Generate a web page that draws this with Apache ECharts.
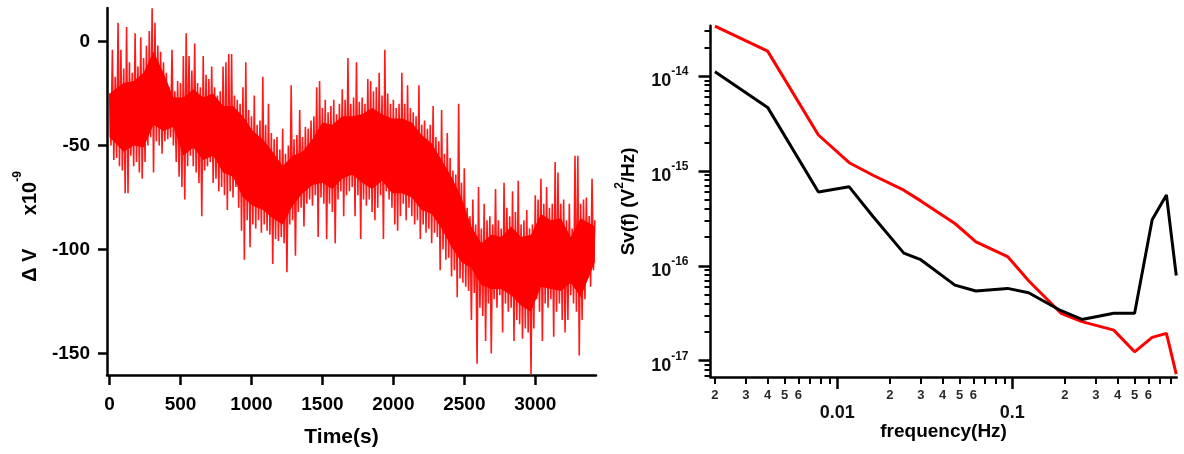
<!DOCTYPE html>
<html><head><meta charset="utf-8">
<script src="https://cdn.jsdelivr.net/npm/echarts@6/dist/echarts.min.js"></script>
<style>html,body{margin:0;padding:0;background:#fff}#c{width:1184px;height:454px}</style>
</head><body><div id="c"></div>
<script>
// ---------- left panel: ΔV (×1e-9) vs time ----------
const sampleIntervalSec = 10;
const deltaV_e9 = [
 -25,-50,-4,-57,-17,-56,9,  -60,-4,-62,-13,-73,7,-73,  -10,-55,-15,-60,4,-58,-12,
 -63,2,-66,-8,-58,-2,-50,  5,-46,16,-63,9,-48,-2,  -50,-5,-54,-10,-48,-15,-47,
 -22,-46,-4,-50,-24,-58,-19,  -65,-20,-70,-7,-76,4,-60,  -7,-55,-14,-60,-1,-63,-20,
 -68,-22,-84,-7,-62,-16,-60,  -18,-58,-12,-68,-22,-66,-26,  -72,-24,-70,-12,-74,-10,-81,
 -6,-72,-6,-75,-26,-70,-28,  -80,-30,-91,-22,-105,-10,-86,  -33,-99,-36,-88,-26,-90,-40,
 -86,-38,-92,-17,-88,-40,-91,  -30,-93,-44,-107,-47,-95,-46,  -96,-52,-94,-42,-97,-54,-111,
 -50,-88,-21,-86,-47,-103,-45,  -82,-33,-80,-46,-89,-41,-78,  -42,-76,-38,-79,-36,-74,-22,
 -94,-19,-75,-32,-78,-28,-95,  -34,-78,-31,-82,-28,-97,-35,  -76,-30,-72,-23,-84,-28,-74,
 -8,-72,-30,-70,-27,-84,-10,  -74,-29,-95,-27,-76,-30,-79,  -18,-76,-19,-82,-24,-86,-22,
 -80,-15,-74,-26,-95,-4,-72,  -25,-76,-30,-80,-28,-88,-32,  -91,-30,-84,-15,-78,-30,-86,
 -21,-80,-32,-84,-34,-88,-36,  -86,-21,-95,-40,-88,-38,-92,  -42,-90,-40,-97,-31,-92,-46,
 -94,-48,-110,-33,-100,-54,-105,  -44,-104,-56,-113,-62,-110,-64,  -123,-30,-114,-68,-116,-61,-118,
 -80,-120,-84,-134,-76,-121,-88,  -155,-70,-128,-90,-132,-78,-144,  -86,-126,-84,-150,-88,-124,-71,
 -128,-86,-122,-90,-140,-68,-126,  -80,-130,-84,-128,-72,-144,-82,  -134,-67,-136,-88,-143,-86,-138,
 -81,-140,-90,-160,-88,-138,-74,  -124,-76,-130,-66,-144,-78,-126,  -70,-128,-80,-124,-78,-142,-58,
 -130,-63,-126,-78,-134,-76,-140,  -86,-134,-78,-122,-90,-126,-55,  -130,-55,-151,-78,-134,-76,-124,
 -75,-114,-84,-118,-66,-110,-86
];
// innermost solid part of the trace (upper / lower edge), read per ~70 s
const coreTimeSec = [0,100,170,240,310,380,450,520,590,660,730,800,870,940,1010,1080,1150,1220,1290,1360,1430,1500,1570,1640,1710,1780,1850,1920,1990,2060,2130,2200,2270,2340,2410,2480,2550,2620,2690,2760,2830,2900,2970,3040,3110,3180,3250,3320,3420];
const coreUpper = [-25,-20,-19,-15,-5,-15,-27,-27,-23,-27,-25,-31,-31,-36,-43,-47,-53,-60,-55,-53,-47,-39,-40,-36,-36,-35,-32,-35,-37,-37,-39,-45,-49,-57,-65,-75,-89,-97,-93,-94,-89,-94,-93,-83,-86,-85,-94,-85,-89];
const coreLower = [-46,-53,-50,-51,-40,-43,-41,-55,-51,-57,-55,-63,-65,-75,-79,-81,-85,-88,-79,-73,-69,-68,-71,-66,-64,-68,-71,-67,-73,-73,-75,-81,-83,-90,-99,-106,-109,-117,-119,-119,-122,-127,-130,-118,-119,-120,-116,-123,-106];
const timeTickLabels = [0, 500, 1000, 1500, 2000, 2500, 3000];
const deltaVTickLabels = [0, -50, -100, -150];

// ---------- right panel: noise spectra ----------
const freqHz  = [0.002, 0.004, 0.0078, 0.0117, 0.016, 0.024, 0.030, 0.047, 0.062, 0.094, 0.124, 0.19, 0.25, 0.38, 0.50, 0.63, 0.76, 0.865];
const svRed   = [3.36e-14, 1.83e-14, 2.39e-15, 1.22e-15, 9.0e-16, 6.26e-16, 4.83e-16, 2.79e-16, 1.79e-16, 1.25e-16, 6.95e-17, 3.16e-17, 2.58e-17, 2.1e-17, 1.24e-17, 1.76e-17, 1.94e-17, 7.2e-18];
const svBlack = [1.11e-14, 4.67e-15, 6.0e-16, 6.79e-16, 3.31e-16, 1.36e-16, 1.16e-16, 6.26e-17, 5.42e-17, 5.78e-17, 5.2e-17, 3.36e-17, 2.72e-17, 3.16e-17, 3.16e-17, 3.05e-16, 5.58e-16, 7.9e-17];
const freqMinorTickLabels = [0.002,0.003,0.004,0.005,0.006, 0.02,0.03,0.04,0.05,0.06, 0.2,0.3,0.4,0.5,0.6];
const freqMajorTickLabels = [0.01, 0.1];
const freqMinorTicks = [0.002,0.003,0.004,0.005,0.006,0.007,0.008,0.009, 0.02,0.03,0.04,0.05,0.06,0.07,0.08,0.09, 0.2,0.3,0.4,0.5,0.6,0.7,0.8];
const svDecadeTickLabels = [1e-14, 1e-15, 1e-16, 1e-17];
const svMinorTicks = [7e-18,8e-18,9e-18, 2e-17,3e-17,4e-17,5e-17,6e-17,7e-17,8e-17,9e-17,
  2e-16,3e-16,4e-16,5e-16,6e-16,7e-16,8e-16,9e-16, 2e-15,3e-15,4e-15,5e-15,6e-15,7e-15,8e-15,9e-15, 2e-14,3e-14];

const FONT = 'Liberation Sans, Arial, Helvetica, sans-serif';
const fMin = 1.886e-3, fMax = 0.870;
const sMin = 6.73e-18, sMax = 3.39e-14;
const lg = Math.log10;

const chart = echarts.init(document.getElementById('c'), null, {renderer: 'canvas'});

const leftData = deltaV_e9.map((v, i) => [i * sampleIntervalSec, v]);
const coreData = coreTimeSec.map((t, i) => [t, coreLower[i], coreUpper[i]]);
const redData = freqHz.map((f, i) => [f, svRed[i]]);
const blackData = freqHz.map((f, i) => [f, svBlack[i]]);

// one filled polygon for the dense core, placed through the axis scales
function renderCore(params, api) {
  if (params.dataIndex !== 0) return null;
  const pts = [];
  for (let i = 0; i < coreTimeSec.length; i++) pts.push(api.coord([coreTimeSec[i], coreUpper[i]]));
  for (let i = coreTimeSec.length - 1; i >= 0; i--) pts.push(api.coord([coreTimeSec[i], coreLower[i]]));
  return {type: 'polygon', shape: {points: pts}, style: {fill: '#ff0000', stroke: null}};
}

const blackLine = {show: true, onZero: false, lineStyle: {color: '#000', width: 2.5}};
const noLine = {show: false, onZero: false};
const noSplit = {show: false};

chart.setOption({
  animation: false,
  backgroundColor: '#fff',
  grid: [
    {left: 107, top: 8, width: 489, height: 367, containLabel: false, outerBoundsMode: 'none'},
    {left: 710.5, top: 25.7, width: 466.2, height: 351.3, containLabel: false, outerBoundsMode: 'none'}
  ],
  xAxis: [
    { gridIndex: 0, type: 'value', position: 'bottom', min: -18, max: 3428,
      axisLine: blackLine, splitLine: noSplit,
      axisTick: {show: true, inside: false, length: 10, lineStyle: {color: '#000', width: 2.5}, customValues: timeTickLabels},
      axisLabel: {customValues: timeTickLabels, margin: 20, color: '#000', fontFamily: FONT, fontWeight: 'bold', fontSize: 19,
        formatter: v => String(v)},
      name: 'Time(s)', nameLocation: 'middle', nameGap: 52,
      nameTextStyle: {color: '#000', fontFamily: FONT, fontWeight: 'bold', fontSize: 21, padding: [0, 20, 0, 0]}
    },
    { gridIndex: 1, type: 'log', position: 'bottom', min: fMin, max: fMax, logBase: 10,
      axisLine: blackLine, splitLine: noSplit, axisTick: {show: false}, axisLabel: {show: false},
      name: 'frequency(Hz)', nameLocation: 'middle', nameGap: 45,
      nameTextStyle: {color: '#000', fontFamily: FONT, fontWeight: 'bold', fontSize: 19}
    },
    { gridIndex: 1, type: 'value', position: 'bottom', min: lg(fMin), max: lg(fMax),
      axisLine: noLine, splitLine: noSplit,
      axisTick: {show: true, length: 7, lineStyle: {color: '#000', width: 2}, customValues: freqMinorTicks.map(lg)},
      axisLabel: {customValues: freqMinorTickLabels.map(lg), margin: 12, color: '#2a2a2a', fontFamily: FONT, fontWeight: 'bold', fontSize: 13,
        formatter: v => { const f = Math.pow(10, v); return String(Math.round(f / Math.pow(10, Math.floor(v + 1e-9)))); }}
    },
    { gridIndex: 1, type: 'value', position: 'bottom', min: lg(fMin), max: lg(fMax),
      axisLine: noLine, splitLine: noSplit,
      axisTick: {show: true, length: 12, lineStyle: {color: '#000', width: 2.5}, customValues: freqMajorTickLabels.map(lg)},
      axisLabel: {customValues: freqMajorTickLabels.map(lg), margin: 27, color: '#111', fontFamily: FONT, fontWeight: 'bold', fontSize: 18,
        formatter: v => String(+Math.pow(10, v).toPrecision(1))}
    }
  ],
  yAxis: [
    { gridIndex: 0, type: 'value', position: 'left', min: -160.4, max: 16.1,
      axisLine: blackLine, splitLine: noSplit,
      axisTick: {show: true, length: 9, lineStyle: {color: '#000', width: 2.5}, customValues: deltaVTickLabels},
      axisLabel: {customValues: deltaVTickLabels, margin: 17, color: '#000', fontFamily: FONT, fontWeight: 'bold', fontSize: 19},
      name: '{b|Δ V      x10}{s|-9}', nameLocation: 'middle', nameGap: 66.5,
      nameTextStyle: {color: '#000', fontFamily: FONT, fontWeight: 'bold', fontSize: 20, padding: [0, 70, 0, 0],
        rich: {
          b: {fontFamily: FONT, fontWeight: 'bold', fontSize: 20, color: '#000', verticalAlign: 'bottom'},
          s: {fontFamily: FONT, fontWeight: 'bold', fontSize: 12, color: '#000', verticalAlign: 'top', padding: [0, 0, 17, 0]}
        }}
    },
    { gridIndex: 1, type: 'log', position: 'left', min: sMin, max: sMax, logBase: 10,
      axisLine: blackLine, splitLine: noSplit, axisTick: {show: false}, axisLabel: {show: false},
      name: '{b|Sv(f) (V}{s|2}{b|/Hz)}', nameLocation: 'middle', nameGap: 72,
      nameTextStyle: {color: '#000', fontFamily: FONT, fontWeight: 'bold', fontSize: 19,
        rich: {
          b: {fontFamily: FONT, fontWeight: 'bold', fontSize: 19, color: '#000', verticalAlign: 'bottom'},
          s: {fontFamily: FONT, fontWeight: 'bold', fontSize: 12, color: '#000', verticalAlign: 'top', padding: [0, 0, 12.5, 0]}
        }}
    },
    { gridIndex: 1, type: 'value', position: 'left', min: lg(sMin), max: lg(sMax),
      axisLine: noLine, splitLine: noSplit,
      axisTick: {show: true, length: 12, lineStyle: {color: '#000', width: 2.5}, customValues: svDecadeTickLabels.map(lg)},
      axisLabel: {customValues: svDecadeTickLabels.map(lg), margin: 22, fontFamily: FONT,
        formatter: v => '{b|10}{s|' + Math.round(v) + '}',
        rich: {
          b: {fontFamily: FONT, fontWeight: 'bold', fontSize: 18, color: '#111', verticalAlign: 'bottom'},
          s: {fontFamily: FONT, fontWeight: 'bold', fontSize: 12, color: '#111', verticalAlign: 'top', padding: [4.5, 0, 12.5, 0]}
        }}
    },
    { gridIndex: 1, type: 'value', position: 'left', min: lg(sMin), max: lg(sMax),
      axisLine: noLine, splitLine: noSplit,
      axisTick: {show: true, length: 6, lineStyle: {color: '#000', width: 2}, customValues: svMinorTicks.map(lg)},
      axisLabel: {show: false}
    }
  ],
  series: [
    { type: 'custom', name: 'ΔV core', xAxisIndex: 0, yAxisIndex: 0, data: coreData,
      encode: {x: 0, y: [1, 2]}, renderItem: renderCore, clip: true, silent: true },
    { type: 'line', name: 'ΔV', xAxisIndex: 0, yAxisIndex: 0, data: leftData, showSymbol: false, symbol: 'none',
      lineStyle: {color: 'rgba(255,0,0,0.9)', width: 1.6}, silent: true },
    { type: 'line', xAxisIndex: 1, yAxisIndex: 1, data: redData, showSymbol: false, symbol: 'none',
      lineStyle: {color: '#ff0000', width: 3}, silent: true },
    { type: 'line', xAxisIndex: 1, yAxisIndex: 1, data: blackData, showSymbol: false, symbol: 'none',
      lineStyle: {color: '#000000', width: 3}, silent: true }
  ]
});
</script>
</body></html>
